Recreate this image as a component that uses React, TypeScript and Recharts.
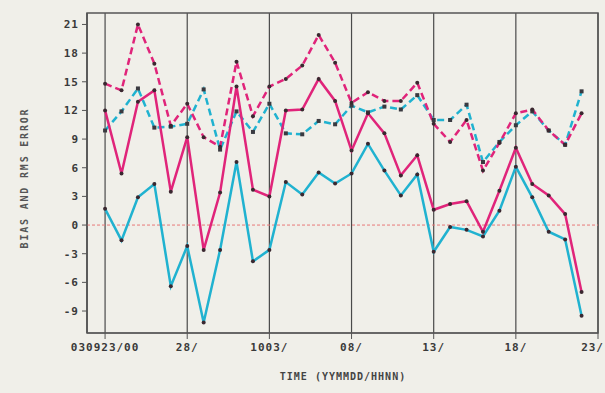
import {
  LineChart,
  Line,
  XAxis,
  YAxis,
  CartesianGrid,
  ReferenceLine,
  ReferenceArea,
} from "recharts";

const X_TICKS = [0, 5, 10, 15, 20, 25, 30];
const X_LABELS = ["030923/00", "28/", "1003/", "08/", "13/", "18/", "23/"];
const Y_TICKS = [-9, -6, -3, 0, 3, 6, 9, 12, 15, 18, 21];

const magentaBias = [12.0, 5.4, 12.9, 14.1, 3.5, 9.2, -2.6, 3.4, 14.5, 3.7, 3.0, 12.0, 12.1, 15.3, 13.0, 7.8, 11.7, 9.6, 5.2, 7.3, 1.6, 2.2, 2.5, -0.7, 3.6, 8.1, 4.3, 3.1, 1.15, -7.0];
const magentaRms = [14.8, 14.1, 21.0, 16.9, 10.4, 12.7, 9.2, 8.2, 17.1, 11.4, 14.5, 15.3, 16.7, 19.9, 17.0, 12.8, 13.9, 13.0, 13.0, 14.9, 10.6, 8.7, 11.0, 5.7, 8.6, 11.7, 12.1, 9.9, 8.4, 11.7];
const cyanBias = [1.7, -1.6, 2.9, 4.3, -6.4, -2.2, -10.2, -2.6, 6.6, -3.8, -2.6, 4.5, 3.2, 5.5, 4.35, 5.4, 8.5, 5.7, 3.1, 5.3, -2.8, -0.2, -0.5, -1.2, 1.5, 6.1, 2.9, -0.7, -1.5, -9.5];
const cyanRms = [9.9, 11.9, 14.3, 10.2, 10.3, 10.6, 14.2, 7.9, 11.9, 9.75, 12.7, 9.6, 9.5, 10.9, 10.55, 12.5, 11.8, 12.4, 12.1, 13.6, 11.0, 11.0, 12.6, 6.6, 8.7, 10.45, 11.9, 9.9, 8.4, 14.0];

const data = magentaBias.map((_, i) => ({
  i,
  mb: magentaBias[i],
  mr: magentaRms[i],
  cb: cyanBias[i],
  cr: cyanRms[i],
}));

const MAGENTA = "#e0247a";
const CYAN = "#20b2d0";
const INK = "#3a3a3a";
const BG = "#f0efe9";
const FONT = "'DejaVu Sans Mono', monospace";

const Y_MIN = -11.3;
const Y_MAX = 22.2;
const X_MIN = -1.1;
const X_MAX = 30;

function RoundDot(props: any) {
  const { cx, cy, index } = props;
  if (cx == null || cy == null) return null;
  return <circle key={`d${index}`} cx={cx} cy={cy} r={2} fill="#3a2830" />;
}

function SquareDot(props: any) {
  const { cx, cy, index } = props;
  if (cx == null || cy == null) return null;
  return <rect key={`s${index}`} x={cx - 2} y={cy - 2} width={4} height={4} fill="#3a3a40" />;
}

const tickStyle = {
  fontFamily: FONT,
  fontSize: 11,
  fontWeight: 700,
  fill: INK,
  letterSpacing: 1,
};

// last label sits at the right edge in the original, keep it inside the page
function TimeTick(props: any) {
  const { x, y, payload } = props;
  const label = X_LABELS[X_TICKS.indexOf(payload.value)] ?? "";
  const last = payload.value === X_TICKS[X_TICKS.length - 1];
  return (
    <text
      x={last ? 604 : x}
      y={y + 8}
      textAnchor={last ? "end" : "middle"}
      style={tickStyle}
    >
      {label}
    </text>
  );
}

export default function App() {
  return (
    <div style={{ position: "absolute", left: 0, top: 0, width: 605, height: 393, background: BG }}>
      <LineChart
        width={605}
        height={393}
        data={data}
        margin={{ top: 13, right: 7, bottom: 0, left: 0 }}
      >
        <CartesianGrid vertical horizontal={false} stroke="#4a4a4a" strokeWidth={1.2} />
        <XAxis
          type="number"
          dataKey="i"
          domain={[X_MIN, X_MAX]}
          ticks={X_TICKS}
          allowDataOverflow
          height={60}
          tickSize={6}
          tickMargin={4}
          stroke="#555"
          tick={<TimeTick />}
          interval={0}
        />
        <YAxis
          type="number"
          domain={[Y_MIN, Y_MAX]}
          ticks={Y_TICKS}
          allowDataOverflow
          width={87}
          tickSize={5}
          tickMargin={3}
          stroke="#555"
          tick={tickStyle}
          interval={0}
        />
        <ReferenceArea
          x1={X_MIN}
          x2={X_MAX}
          y1={Y_MIN}
          y2={Y_MAX}
          fill="none"
          stroke="#555"
          strokeWidth={1.5}
        />
        <ReferenceLine y={0} stroke="#e87878" strokeDasharray="3 2" strokeWidth={1} />
        <Line
          dataKey="cr"
          stroke={CYAN}
          strokeWidth={2.5}
          strokeDasharray="7 4"
          dot={SquareDot}
          isAnimationActive={false}
        />
        <Line
          dataKey="mr"
          stroke={MAGENTA}
          strokeWidth={2.5}
          strokeDasharray="7 4"
          dot={RoundDot}
          isAnimationActive={false}
        />
        <Line
          dataKey="cb"
          stroke={CYAN}
          strokeWidth={2.5}
          dot={RoundDot}
          isAnimationActive={false}
        />
        <Line
          dataKey="mb"
          stroke={MAGENTA}
          strokeWidth={2.5}
          dot={RoundDot}
          isAnimationActive={false}
        />
      </LineChart>
      {/* axis titles */}
      <div
        style={{
          position: "absolute",
          left: 0,
          top: 371,
          width: 686,
          textAlign: "center",
          fontFamily: FONT,
          fontSize: 10,
          fontWeight: 700,
          color: "#444",
          letterSpacing: 1,
        }}
      >
        TIME (YYMMDD/HHNN)
      </div>
      <div
        style={{
          position: "absolute",
          left: 24,
          top: 178,
          transform: "translate(-50%, -50%) rotate(-90deg)",
          whiteSpace: "nowrap",
          fontFamily: FONT,
          fontSize: 10,
          fontWeight: 700,
          color: "#555",
          letterSpacing: 1.8,
        }}
      >
        BIAS AND RMS ERROR
      </div>
    </div>
  );
}
